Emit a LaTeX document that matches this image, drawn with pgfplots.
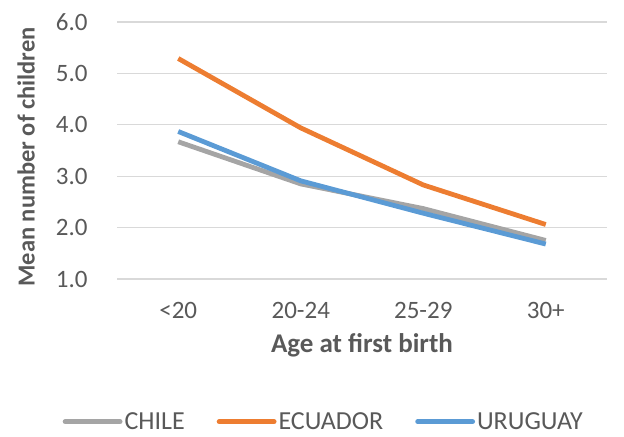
\documentclass[border=0pt]{standalone}
\usepackage{fontspec}
\setmainfont{Carlito}
\usepackage{pgfplots}
\pgfplotsset{compat=1.18}
\definecolor{cgray}{HTML}{A5A5A5}
\definecolor{corange}{HTML}{ED7D31}
\definecolor{cblue}{HTML}{5B9BD5}
\definecolor{ctext}{HTML}{595959}
\definecolor{cgrid}{HTML}{D9D9D9}
\begin{document}
\begin{tikzpicture}
\useasboundingbox (0,0) rectangle (624bp,437bp);
\begin{axis}[
  at={(117bp,158bp)}, anchor=south west,
  scale only axis, width=490bp, height=257bp,
  xmin=-0.5, xmax=3.5, ymin=1, ymax=6,
  xtick={0,1,2,3}, xticklabels={{<20},{20-24},{25-29},{30+}},
  ytick={1,2,3,4,5,6},
  yticklabel={\pgfmathprintnumber[fixed,fixed zerofill,precision=1]{\tick}},
  /pgf/number format/assume math mode=true,
  axis line style={draw=none},
  major tick length=0pt,
  ymajorgrids, grid style={cgrid, line width=1.2bp},
  tick label style={font=\fontsize{25bp}{29bp}\selectfont, text=ctext},
  yticklabel style={xshift=-26bp},
  xticklabel style={yshift=-20bp},
  xlabel={Age at first birth},
  ylabel={Mean number of children},
  label style={text=ctext},
  xlabel style={font=\bfseries\fontsize{27bp}{31bp}\selectfont, at={(axis description cs:0.5,0)}, anchor=center, yshift=-66bp},
  ylabel style={font=\bfseries\fontsize{24.5bp}{29bp}\selectfont, at={(axis description cs:0,0.475)}, anchor=center, yshift=91bp},
  legend style={at={(axis description cs:0.422,-0.555)}, anchor=center, draw=none, fill=none,
    legend columns=3, font=\fontsize{26bp}{30bp}\selectfont, text=ctext,
    /tikz/every even column/.append style={column sep=30bp}},
  legend image code/.code={\draw[#1, line cap=round] (0bp,0bp) -- (55bp,0bp);},
  every axis plot/.append style={line width=4.8bp, line join=round},
]
\addplot[cgray] coordinates {(0,3.67) (1,2.85) (2,2.37) (3,1.75)};
\addlegendentry{CHILE}
\addplot[corange] coordinates {(0,5.29) (1,3.94) (2,2.83) (3,2.06)};
\addlegendentry{ECUADOR}
\addplot[cblue] coordinates {(0,3.87) (1,2.91) (2,2.28) (3,1.68)};
\addlegendentry{URUGUAY}
\end{axis}
\end{tikzpicture}
\end{document}
